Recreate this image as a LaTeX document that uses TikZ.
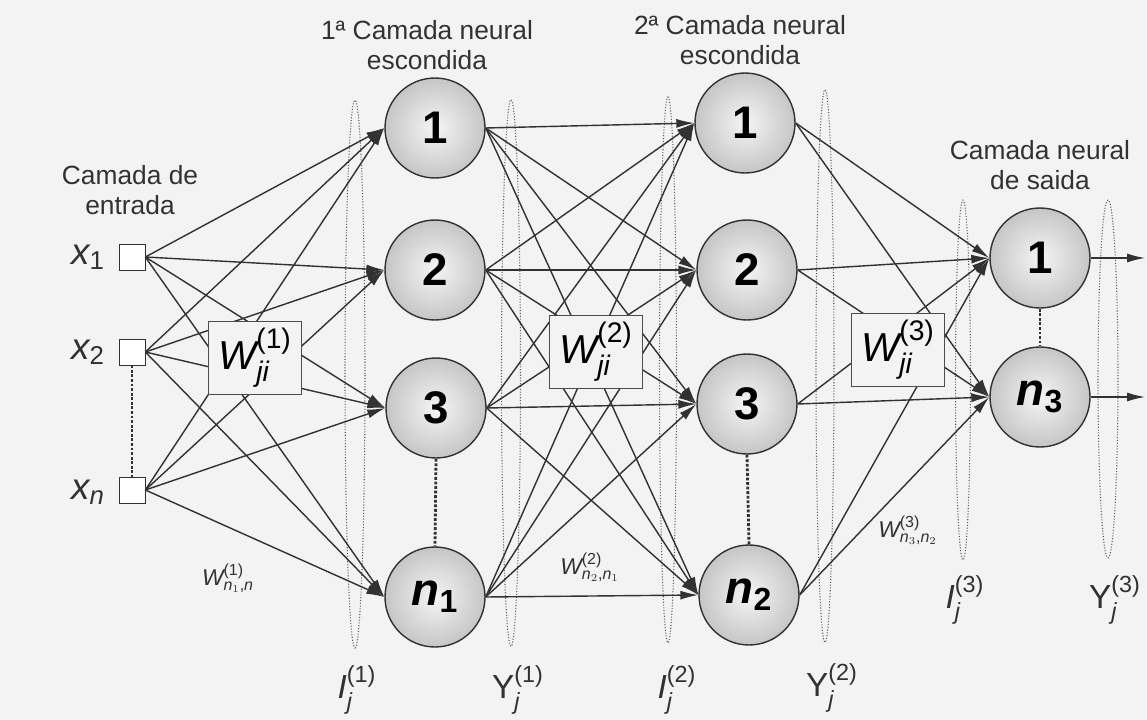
\documentclass[tikz,border=0pt]{standalone}
\usepackage{amsmath}
\usepackage{fontspec}
\setmainfont{Liberation Sans}
\usetikzlibrary{arrows.meta,shapes.geometric}
\definecolor{paper}{RGB}{243,243,243}
\definecolor{ink}{RGB}{50,50,50}
\newcommand{\wji}[1]{$\textit{W}^{\text{(#1)}}_{\textit{ji}}$}
\newcommand{\sigI}[1]{$\textit{I}^{\text{(#1)}}_{\textit{j}}$}
\newcommand{\sigY}[1]{$\text{Y}^{\text{(#1)}}_{\textit{j}}$}
\newcommand{\nn}[1]{$\text{\bfseries\itshape n}_{\text{\bfseries #1}}$}
\tikzset{
    neuron/.style={circle, draw=ink, thick, inner color=gray!8, outer color=gray!45,
                   minimum size=2cm, inner sep=0pt, font=\fontsize{26}{28}\selectfont\bfseries},
    inbox/.style={rectangle, draw=ink, fill=white, minimum size=0.52cm, inner sep=0pt},
    wbox/.style={rectangle, draw=gray!60!black, fill=paper, minimum width=1.85cm,
                 minimum height=1.45cm, inner sep=0pt, font=\fontsize{23}{25}\selectfont},
    sig/.style={ellipse, draw=ink!80, densely dotted, semithick, minimum width=#1, inner sep=0pt},
    conn/.style={-{Latex[length=3.6mm,width=1.8mm]}, ink, thick},
    dots/.style={ink, densely dotted, line width=1.6pt},
    ttl/.style={font=\fontsize{15}{17}\selectfont, align=center, text=ink},
    xlbl/.style={font=\fontsize{21}{23}\selectfont, text=ink},
    slbl/.style={font=\fontsize{19}{21}\selectfont, text=ink},
    wsml/.style={font=\fontsize{13}{15}\selectfont, text=ink},
}

\begin{document}
\begin{tikzpicture}[x=0.02cm, y=-0.02cm]
    \fill[paper] (0,0) rectangle (1147,720);
    \useasboundingbox (0,0) rectangle (1147,720);

    % Signal ellipses
    \node[sig=0.4cm,  minimum height=10.96cm] (eI1) at (355,374) {};
    \node[sig=0.38cm, minimum height=10.94cm] (eY1) at (511,373) {};
    \node[sig=0.34cm, minimum height=10.92cm] (eI2) at (668,370) {};
    \node[sig=0.36cm, minimum height=11.06cm] (eY2) at (825,366) {};
    \node[sig=0.3cm,  minimum height=7.2cm]   (eI3) at (963,380) {};
    \node[sig=0.4cm,  minimum height=7.16cm]  (eY3) at (1108,379) {};

    % Input layer
    \node[inbox] (x1) at (132,257) {};
    \node[inbox] (x2) at (132,352) {};
    \node[inbox] (xn) at (132,490) {};
    \node[xlbl] (lx1) at (88,257) {$\textit{x}_{\text{1}}$};
    \node[xlbl] (lx2) at (88,352) {$\textit{x}_{\text{2}}$};
    \node[xlbl] (lxn) at (88,492) {$\textit{x}_{\textit{n}}$};

    % Neurons
    \node[neuron] (h11) at (435,128) {1};
    \node[neuron] (h12) at (435,270) {2};
    \node[neuron] (h13) at (436,408) {3};
    \node[neuron] (h1n) at (435,597) {\nn{1}};
    \node[neuron] (h21) at (745,123) {1};
    \node[neuron] (h22) at (747,270) {2};
    \node[neuron] (h23) at (747,404) {3};
    \node[neuron] (h2n) at (749,595) {\nn{2}};
    \node[neuron] (o1)  at (1040,258) {1};
    \node[neuron] (on)  at (1040,397) {\nn{3}};
    \coordinate (y1) at (1145,258);
    \coordinate (yn) at (1145,397);

    % Connections
    \foreach \s in {x1,x2,xn}
        \foreach \t in {h11,h12,h13,h1n}
            \draw[conn] (\s.east) -- (\t.west);
    \foreach \s in {h11,h12,h13,h1n}
        \foreach \t in {h21,h22,h23,h2n}
            \draw[conn] (\s.east) -- (\t.west);
    \foreach \s in {h21,h22,h23,h2n}
        \foreach \t in {o1,on}
            \draw[conn] (\s.east) -- (\t.west);
    \draw[conn] (o1.east) -- (y1);
    \draw[conn] (on.east) -- (yn);

    % Omitted units
    \draw[dots] (x2.south)  -- (xn.north);
    \draw[dots] (h13.south) -- (h1n.north);
    \draw[dots] (h23.south) -- (h2n.north);
    \draw[dots] (o1.south)  -- (on.north);

    % Weight matrices
    \node[wbox] (w1) at (255,358) {\wji{1}};
    \node[wbox] (w2) at (596,352) {\wji{2}};
    \node[wbox] (w3) at (898,350) {\wji{3}};
    \node[wsml] (w1s) at (228,578) {$\textit{W}^{\text{(1)}}_{\textit{n}_1\text{,}\textit{n}}$};
    \node[wsml] (w2s) at (590,567) {$\textit{W}^{\text{(2)}}_{\textit{n}_2\text{,}\textit{n}_1}$};
    \node[wsml] (w3s) at (908,530) {$\textit{W}^{\text{(3)}}_{\textit{n}_3\text{,}\textit{n}_2}$};

    % Layer titles
    \node[ttl] (tin)  at (130,190)  {Camada de\\entrada};
    \node[ttl] (th1)  at (427,45)   {1ª Camada neural\\escondida};
    \node[ttl] (th2)  at (740,40)   {2ª Camada neural\\escondida};
    \node[ttl] (tout) at (1040,165) {Camada neural\\de saida};

    % Signal labels
    \node[slbl] (lI1) at (357,690)  {\sigI{1}};
    \node[slbl] (lY1) at (518,690)  {\sigY{1}};
    \node[slbl] (lI2) at (677,690)  {\sigI{2}};
    \node[slbl] (lY2) at (832,688)  {\sigY{2}};
    \node[slbl] (lI3) at (965,600)  {\sigI{3}};
    \node[slbl] (lY3) at (1115,600) {\sigY{3}};
\end{tikzpicture}
\end{document}
